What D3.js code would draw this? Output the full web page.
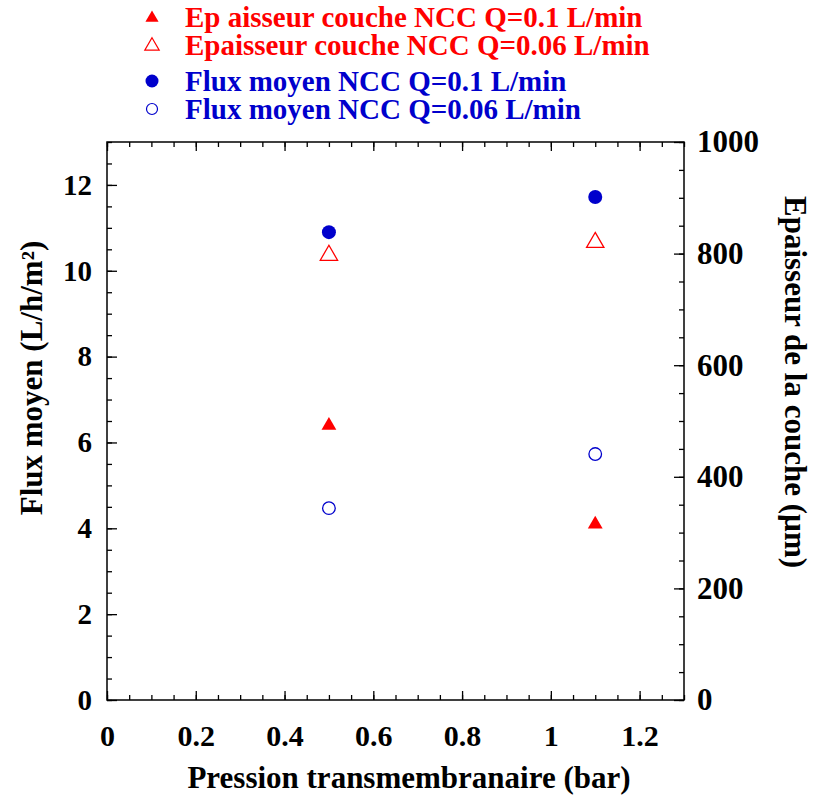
<!DOCTYPE html>
<html>
<head>
<meta charset="utf-8">
<script src="https://cdn.jsdelivr.net/npm/d3@7"></script>
<style>
  html, body { margin: 0; padding: 0; background: #fff; }
  svg { display: block; }
  text { font-family: "Liberation Serif", "Times New Roman", serif; font-weight: bold; }
</style>
</head>
<body>
<svg id="chart" width="820" height="796"></svg>
<script>
// ---- data ----
const pressure = [0.5, 1.1];
const fluxQ01 = [10.9, 11.72];
const fluxQ006 = [4.47, 5.73];
const epQ01 = [492, 315];
const epQ006 = [797, 820];
const xTicks = [0, 0.2, 0.4, 0.6, 0.8, 1, 1.2];
const yLeftTicks = [0, 2, 4, 6, 8, 10, 12];
const yRightTicks = [0, 200, 400, 600, 800, 1000];
const legendLabels = [
  "Ep aisseur couche NCC Q=0.1 L/min",
  "Epaisseur couche NCC Q=0.06 L/min",
  "Flux moyen NCC Q=0.1 L/min",
  "Flux moyen NCC Q=0.06 L/min"
];

const RED = "#ff0000", BLUE = "#0000cc";
const svg = d3.select("#chart");
const L = 107, R = 684, T = 142, B = 700;

const x = d3.scaleLinear().domain([0, 1.3]).range([L, R]);
const yL = d3.scaleLinear().domain([0, 13]).range([B, T]);
const yR = d3.scaleLinear().domain([0, 1000]).range([B, T]);

function fmt(d) { return d3.format("~g")(d); }

function styleTicks(sel) {
  sel.select(".domain").remove();
  sel.selectAll(".tick line").attr("stroke", "#000").attr("stroke-width", 1.3);
}

// bottom axis
const gB = svg.append("g").attr("transform", `translate(0,${B})`);
gB.call(d3.axisBottom(x).tickValues(d3.range(0, 1.3001, 0.05)).tickSize(-5).tickFormat(""));
styleTicks(gB);
const gB2 = svg.append("g").attr("transform", `translate(0,${B})`);
gB2.call(d3.axisBottom(x).tickValues(xTicks).tickSize(-9).tickPadding(25).tickFormat(fmt));
styleTicks(gB2);
gB2.selectAll("text").attr("font-size", 30).attr("fill", "#000").attr("dy", "0.71em");

// top axis
const gT = svg.append("g").attr("transform", `translate(0,${T})`);
gT.call(d3.axisTop(x).tickValues(d3.range(0, 1.3001, 0.05)).tickSize(-5).tickFormat(""));
styleTicks(gT);
const gT2 = svg.append("g").attr("transform", `translate(0,${T})`);
gT2.call(d3.axisTop(x).tickValues(xTicks).tickSize(-9).tickFormat(""));
styleTicks(gT2);

// left axis
const gL = svg.append("g").attr("transform", `translate(${L},0)`);
gL.call(d3.axisLeft(yL).tickValues(d3.range(0, 13.001, 0.5)).tickSize(-5).tickFormat(""));
styleTicks(gL);
const gL2 = svg.append("g").attr("transform", `translate(${L},0)`);
gL2.call(d3.axisLeft(yL).tickValues(yLeftTicks).tickSize(-10).tickPadding(15).tickFormat(fmt));
styleTicks(gL2);
gL2.selectAll("text").attr("font-size", 29).attr("fill", "#000");

// right axis
const gR = svg.append("g").attr("transform", `translate(${R},0)`);
gR.call(d3.axisRight(yR).tickValues(d3.range(0, 1000.001, 50)).tickSize(-5).tickFormat(""));
styleTicks(gR);
const gR2 = svg.append("g").attr("transform", `translate(${R},0)`);
gR2.call(d3.axisRight(yR).tickValues(yRightTicks).tickSize(-10).tickPadding(13).tickFormat(fmt));
styleTicks(gR2);
gR2.selectAll("text").attr("font-size", 31).attr("fill", "#000");

// frame
svg.append("rect").attr("x", L).attr("y", T).attr("width", R - L).attr("height", B - T)
  .attr("fill", "none").attr("stroke", "#000").attr("stroke-width", 1.5);

// markers
const triBig = d3.symbol().type(d3.symbolTriangle).size(130);
const triSmall = d3.symbol().type(d3.symbolTriangle).size(95);

svg.append("g").selectAll("path").data(pressure).join("path")
  .attr("d", triBig)
  .attr("transform", (d, i) => `translate(${x(d)},${yR(epQ006[i])})`)
  .attr("fill", "none").attr("stroke", RED).attr("stroke-width", 1.3);

svg.append("g").selectAll("path").data(pressure).join("path")
  .attr("d", triSmall)
  .attr("transform", (d, i) => `translate(${x(d)},${yR(epQ01[i])})`)
  .attr("fill", RED);

svg.append("g").selectAll("circle").data(pressure).join("circle")
  .attr("cx", d => x(d)).attr("cy", (d, i) => yL(fluxQ01[i])).attr("r", 7)
  .attr("fill", BLUE);

svg.append("g").selectAll("circle").data(pressure).join("circle")
  .attr("cx", d => x(d)).attr("cy", (d, i) => yL(fluxQ006[i])).attr("r", 6.3)
  .attr("fill", "none").attr("stroke", BLUE).attr("stroke-width", 1.3);

// axis titles
svg.append("text").attr("x", 409).attr("y", 788).attr("text-anchor", "middle")
  .attr("font-size", 31).text("Pression transmembranaire (bar)");
svg.append("text").attr("transform", "translate(42,378) rotate(-90)").attr("text-anchor", "middle")
  .attr("font-size", 31).text("Flux moyen (L/h/m²)");
svg.append("text").attr("transform", "translate(785,382) rotate(90)").attr("text-anchor", "middle")
  .attr("font-size", 31).text("Epaisseur de la couche (µm)");

// legend
const legY = [17, 45, 81, 109];
const legColors = [RED, RED, BLUE, BLUE];
const leg = svg.append("g");
leg.append("path").attr("d", d3.symbol().type(d3.symbolTriangle).size(75))
  .attr("transform", `translate(152,${legY[0] + 1})`).attr("fill", RED);
leg.append("path").attr("d", d3.symbol().type(d3.symbolTriangle).size(90))
  .attr("transform", `translate(152,${legY[1] + 1})`).attr("fill", "none").attr("stroke", RED).attr("stroke-width", 1.2);
leg.append("circle").attr("cx", 152).attr("cy", legY[2]).attr("r", 6.5).attr("fill", BLUE);
leg.append("circle").attr("cx", 152).attr("cy", legY[3]).attr("r", 5.5).attr("fill", "none").attr("stroke", BLUE).attr("stroke-width", 1.2);
leg.selectAll("text").data(legendLabels).join("text")
  .attr("x", 185).attr("y", (d, i) => legY[i] + 10)
  .attr("font-size", 29).attr("fill", (d, i) => legColors[i]).text(d => d);
</script>
</body>
</html>
